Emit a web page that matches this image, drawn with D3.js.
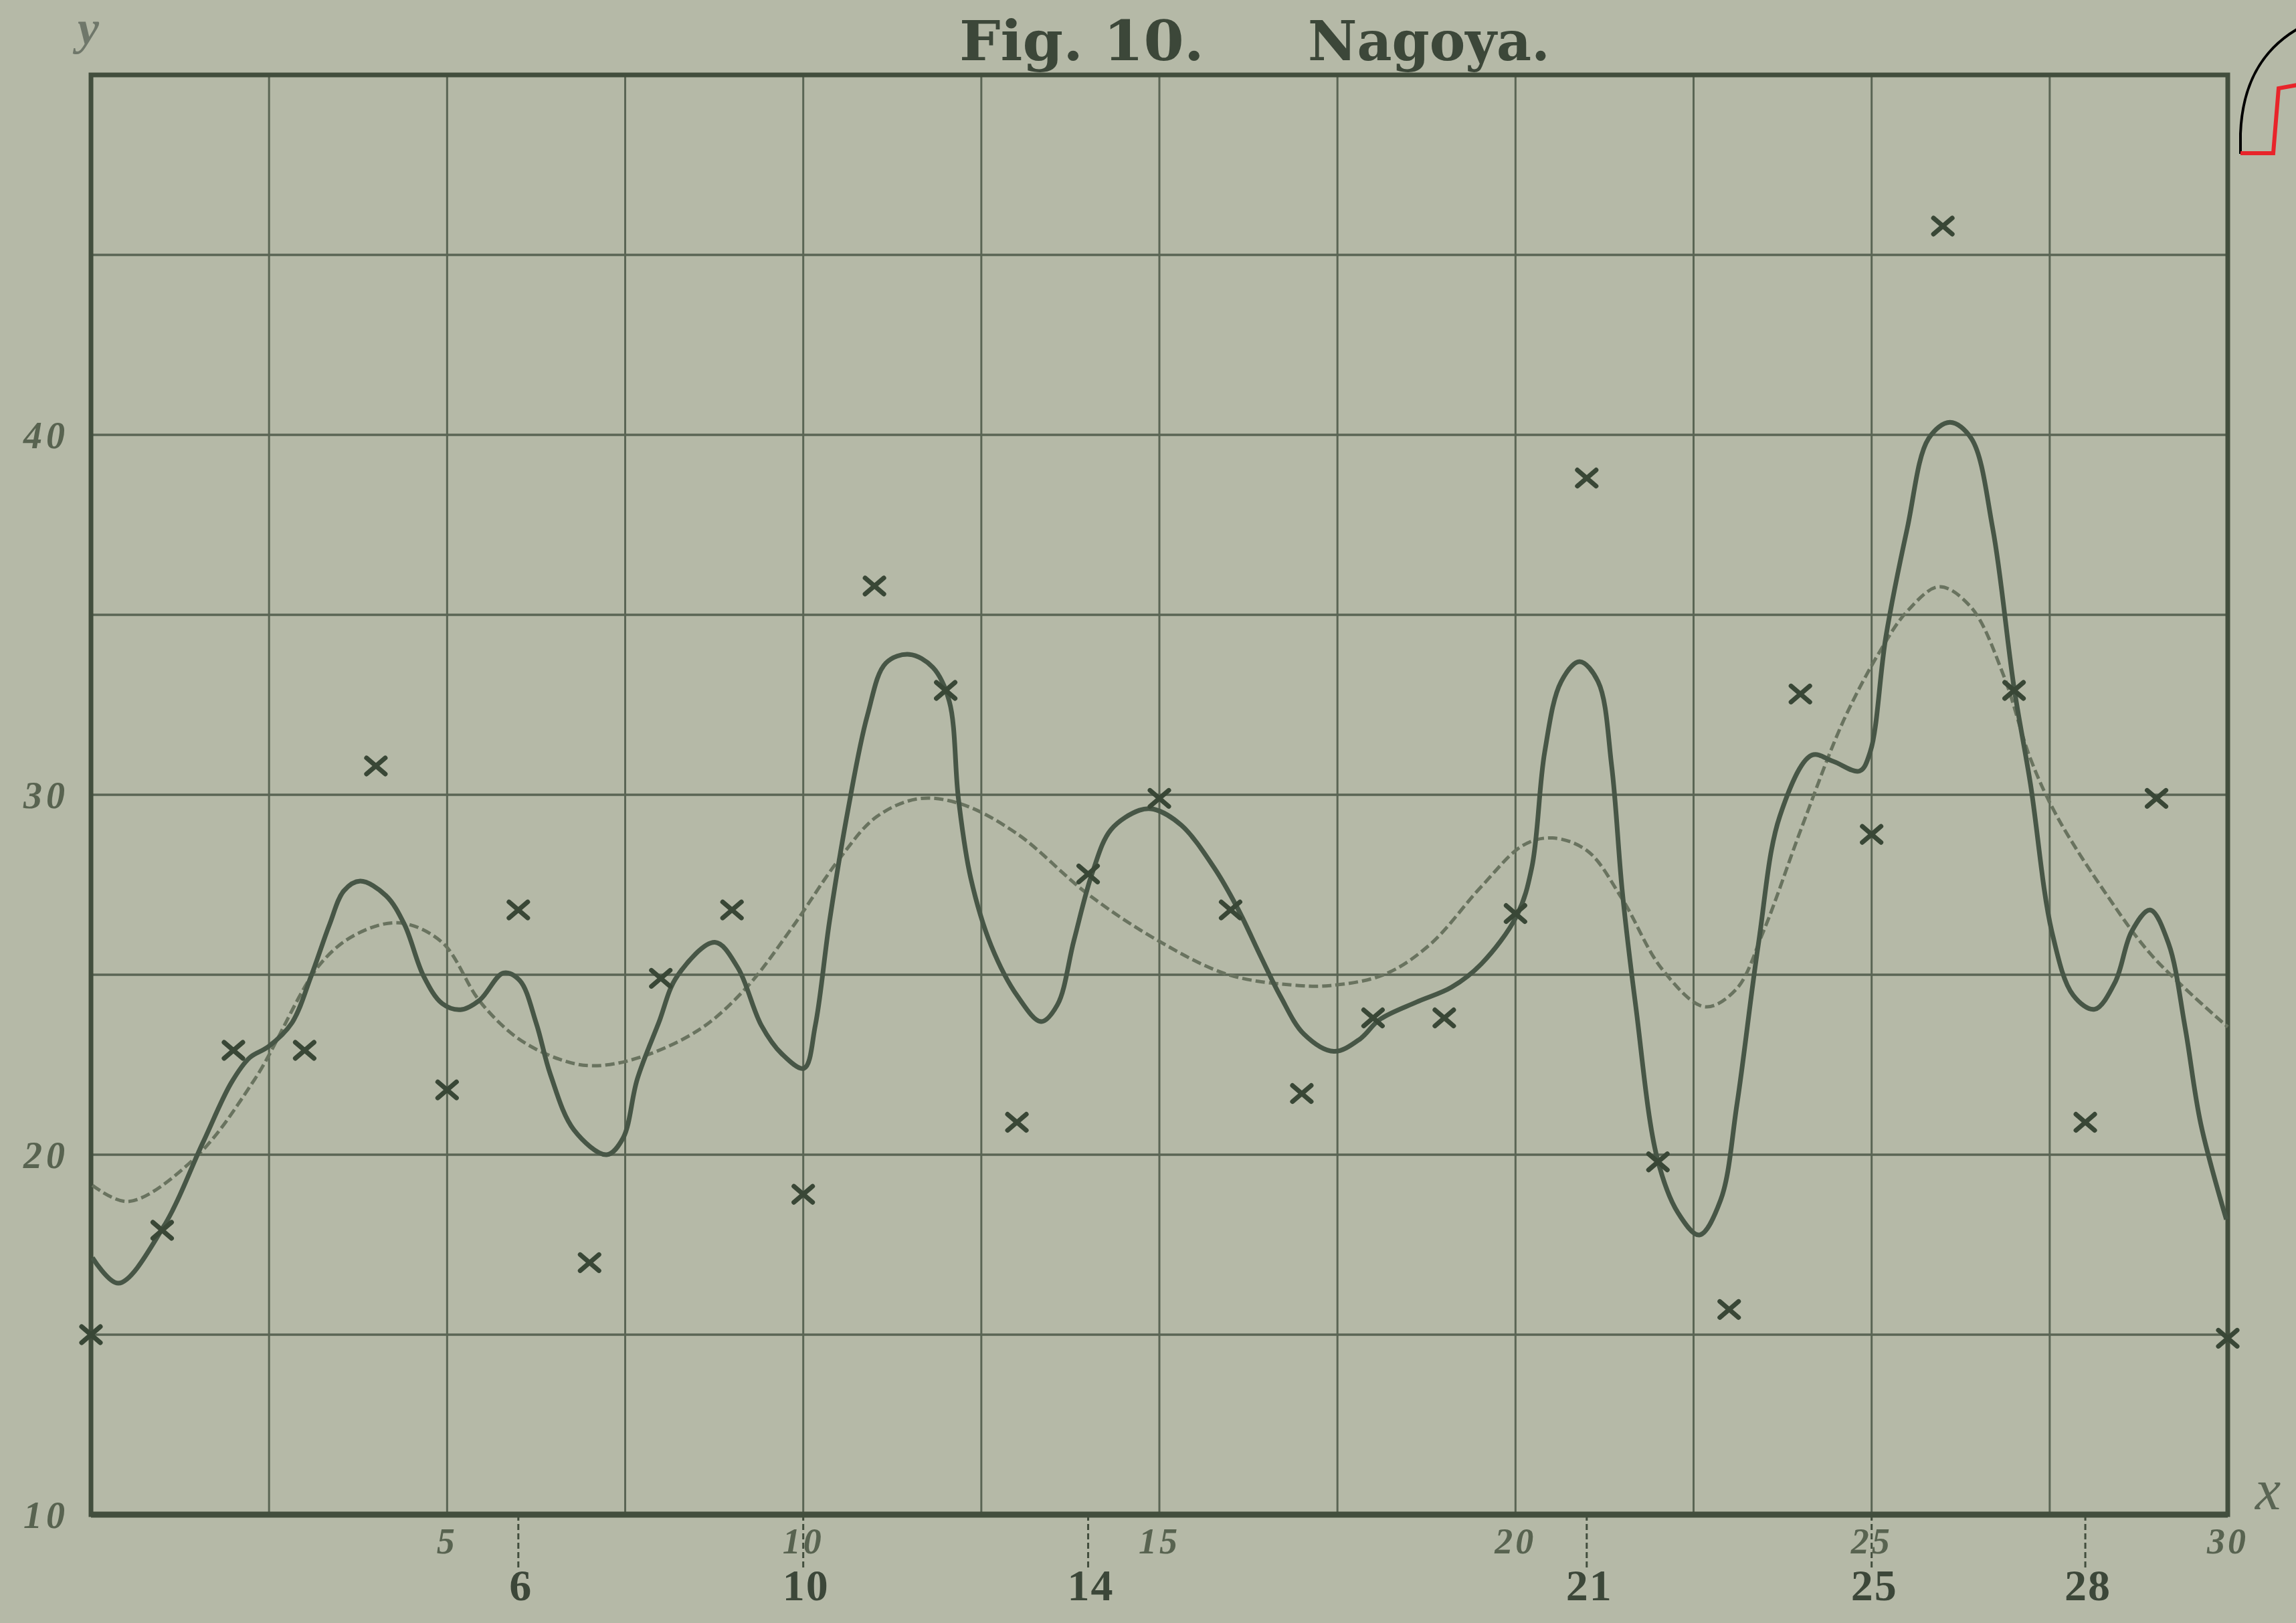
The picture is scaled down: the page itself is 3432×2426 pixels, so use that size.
<!DOCTYPE html>
<html>
<head>
<meta charset="utf-8">
<script src="https://cdn.jsdelivr.net/npm/d3@7"></script>
<style>
  html, body { margin: 0; padding: 0; background: #b5b9a7; }
  svg { display: block; }
</style>
</head>
<body>
<script>
// Daily observations (x = day index, y = observed value)
const days = [0,1,2,3,4,5,6,7,8,9,10,11,12,13,14,15,16,17,18,19,20,21,22,23,24,25,26,27,28,29,30];
const observed = [15.0,17.9,22.9,22.9,30.8,21.8,26.8,17.0,24.9,26.8,18.9,35.8,32.9,20.9,27.8,29.9,26.8,21.7,23.8,23.8,26.7,38.8,19.8,15.7,32.8,28.9,45.8,32.9,20.9,29.9,14.9];

// Solid curve (fitted with many terms), traced as knots
const solidX = [0.02,0.385,1.01,1.57,1.97,2.23,2.49,2.82,3.09,3.35,3.55,3.78,4.14,4.40,4.67,4.93,5.19,5.46,5.79,6.02,6.25,6.45,6.78,7.24,7.47,7.67,7.97,8.23,8.76,9.08,9.41,9.70,10.01,10.17,10.37,10.63,10.9,11.16,11.49,11.82,12.05,12.18,12.35,12.64,13.01,13.34,13.57,13.8,14.06,14.32,14.72,14.92,15.31,15.77,16.1,16.43,16.7,17.03,17.45,17.82,18.09,18.61,19.1,19.52,20.02,20.23,20.41,20.64,20.9,21.16,21.35,21.5,21.69,21.99,22.28,22.58,22.88,23.11,23.41,23.71,24.16,24.46,24.83,24.98,25.2,25.5,25.8,26.1,26.4,26.7,27.0,27.23,27.53,27.83,28.13,28.42,28.65,28.91,29.17,29.4,29.62,29.98];
const solidY = [17.14,16.43,17.97,20.33,22.0,22.7,23.0,23.66,24.96,26.4,27.33,27.6,27.2,26.4,24.96,24.2,24.03,24.3,25.05,24.84,23.66,22.23,20.69,20.0,20.46,22.1,23.66,24.96,25.9,25.2,23.6,22.8,22.4,23.6,26.5,29.6,32.2,33.66,33.9,33.54,32.6,29.87,27.7,25.8,24.4,23.7,24.17,25.95,27.84,29.03,29.57,29.6,29.15,27.97,26.84,25.48,24.4,23.35,22.87,23.22,23.75,24.24,24.65,25.3,26.65,27.99,31.19,33.14,33.7,33.14,30.8,27.3,24.1,19.9,18.39,17.77,18.74,21.41,25.85,29.4,31.1,30.93,30.66,31.19,34.39,37.4,39.9,40.35,39.9,37.4,32.97,30.3,26.2,24.43,24.04,24.8,26.2,26.8,25.86,23.55,20.87,18.2];

// Dashed curve (smoother fit with fewer terms), traced as knots
const dashedX = [0.02,0.52,1.44,2.30,3.22,3.75,4.34,4.93,5.46,5.99,6.58,7.04,7.70,8.56,9.21,9.84,10.5,11.03,11.62,12.22,13.0,13.99,14.98,15.97,16.96,17.4,18.15,18.8,19.52,20.11,20.52,21.01,21.5,22.06,22.66,23.1,23.48,24.01,24.61,25.13,25.5,25.95,26.4,26.85,27.23,27.6,28.28,28.95,30.0];
const dashedY = [19.15,18.7,19.87,22.1,25.3,26.15,26.44,25.9,24.26,23.24,22.65,22.47,22.7,23.5,24.66,26.3,28.2,29.39,29.89,29.74,28.92,27.25,25.95,25.0,24.7,24.7,25.0,25.84,27.45,28.6,28.8,28.44,27.1,25.15,24.11,24.6,26.2,29.05,32.08,34.03,35.1,35.78,35.2,33.33,31.0,29.41,27.28,25.5,23.55];

// Grid and axis labels
const gridX = [0,2.5,5,7.5,10,12.5,15,17.5,20,22.5,25,27.5,30];
const gridY = [10,15,20,25,30,35,40,45,50];
const xLabels = [5,10,15,20,25,30];
const yLabels = [10,20,30,40];
const markedDays = [6,10,14,21,25,28];

const W = 3432, H = 2426;
const ink = "#424e3d";
const gridInk = "#5a6554";
const faded = "#586350";

const svg = d3.select("body").append("svg")
  .attr("width", W).attr("height", H)
  .style("background", "#b5b9a7");

const x = d3.scaleLinear().domain([0, 30]).range([136, 3330]);
const y = d3.scaleLinear().domain([10, 50]).range([2264, 112]);

// Grid
const grid = svg.append("g");
grid.selectAll("line.v").data(gridX).join("line")
  .attr("x1", d => x(d)).attr("x2", d => x(d))
  .attr("y1", y(50)).attr("y2", y(10))
  .attr("stroke", gridInk).attr("stroke-width", 3);
grid.selectAll("line.h").data(gridY).join("line")
  .attr("x1", x(0)).attr("x2", x(30))
  .attr("y1", d => y(d)).attr("y2", d => y(d))
  .attr("stroke", gridInk).attr("stroke-width", 3.5);

// Frame
svg.append("rect")
  .attr("x", x(0)).attr("y", y(50))
  .attr("width", x(30) - x(0)).attr("height", y(10) - y(50))
  .attr("fill", "none").attr("stroke", ink).attr("stroke-width", 7);

// Lower axis emphasised
svg.append("line")
  .attr("x1", x(0)).attr("x2", x(30))
  .attr("y1", y(10)).attr("y2", y(10))
  .attr("stroke", ink).attr("stroke-width", 9);

// Dashed ticks for marked days below the axis
svg.selectAll("line.mark").data(markedDays).join("line")
  .attr("x1", d => x(d)).attr("x2", d => x(d))
  .attr("y1", y(10)).attr("y2", y(10) + 80)
  .attr("stroke", ink).attr("stroke-width", 3)
  .attr("stroke-dasharray", "9,5");

// Curves
const line = (xs, ys) => d3.line()
  .x(i => x(xs[i])).y(i => y(ys[i]))
  .curve(d3.curveCatmullRom.alpha(0.5))(d3.range(xs.length));

svg.append("path")
  .attr("d", line(dashedX, dashedY))
  .attr("fill", "none").attr("stroke", "#69735f")
  .attr("stroke-width", 5).attr("stroke-dasharray", "14,6");

svg.append("path")
  .attr("d", line(solidX, solidY))
  .attr("fill", "none").attr("stroke", "#475646")
  .attr("stroke-width", 7).attr("stroke-linejoin", "round");

// Observation crosses
const hw = 14, hh = 12;
const crosses = svg.append("g");
days.forEach((d, i) => {
  const cx = x(d), cy = y(observed[i]);
  crosses.append("path")
    .attr("d", `M${cx - hw},${cy - hh}L${cx + hw},${cy + hh}M${cx - hw},${cy + hh}L${cx + hw},${cy - hh}`)
    .attr("stroke", "#394736").attr("stroke-width", 7).attr("stroke-linecap", "round");
});

// Title
svg.append("text")
  .attr("x", 1434).attr("y", 90)
  .attr("font-family", "DejaVu Serif").attr("font-weight", "bold")
  .attr("font-size", 82).attr("fill", "#3c4739")
  .attr("textLength", 366).attr("lengthAdjust", "spacingAndGlyphs")
  .text("Fig. 10.");
svg.append("text")
  .attr("x", 1955).attr("y", 90)
  .attr("font-family", "DejaVu Serif").attr("font-weight", "bold")
  .attr("font-size", 82).attr("fill", "#3c4739")
  .attr("textLength", 362).attr("lengthAdjust", "spacingAndGlyphs")
  .text("Nagoya.");

// Axis letters
svg.append("text")
  .attr("x", 116).attr("y", 66)
  .attr("font-family", "Liberation Serif").attr("font-style", "italic")
  .attr("font-weight", "bold").attr("font-size", 72).attr("fill", "#6f776a")
  .text("y");
svg.append("text")
  .attr("x", 3390).attr("y", 2256).attr("text-anchor", "middle")
  .attr("font-family", "Liberation Serif").attr("font-style", "italic")
  .attr("font-size", 86).attr("fill", "#5a6554")
  .text("x");

// Y labels
svg.selectAll("text.yl").data(yLabels).join("text")
  .attr("x", 103).attr("y", d => y(d) + 20)
  .attr("text-anchor", "end")
  .attr("font-family", "Liberation Serif").attr("font-style", "italic").attr("font-weight", "bold")
  .attr("font-size", 56).attr("letter-spacing", 6).attr("fill", faded)
  .text(d => d);

// X labels (scale)
svg.selectAll("text.xl").data(xLabels).join("text")
  .attr("x", d => x(d)).attr("y", 2322)
  .attr("text-anchor", "middle")
  .attr("font-family", "Liberation Serif").attr("font-style", "italic").attr("font-weight", "bold")
  .attr("font-size", 54).attr("letter-spacing", 4).attr("fill", faded)
  .text(d => d);

// Marked day labels
svg.selectAll("text.md").data(markedDays).join("text")
  .attr("x", d => x(d) + 4).attr("y", 2392)
  .attr("text-anchor", "middle")
  .attr("font-family", "Liberation Serif").attr("font-weight", "bold")
  .attr("font-size", 66).attr("letter-spacing", 2).attr("fill", "#3c4739")
  .text(d => d);

// Corner overlay strokes
svg.append("path")
  .attr("d", "M3349,230 L3349,200 C3352,120 3385,70 3440,40")
  .attr("fill", "none").attr("stroke", "#000").attr("stroke-width", 4);
svg.append("path")
  .attr("d", "M3349,229 H3398 L3406,132 L3440,126")
  .attr("fill", "none").attr("stroke", "#e8242a").attr("stroke-width", 6);
</script>
</body>
</html>
